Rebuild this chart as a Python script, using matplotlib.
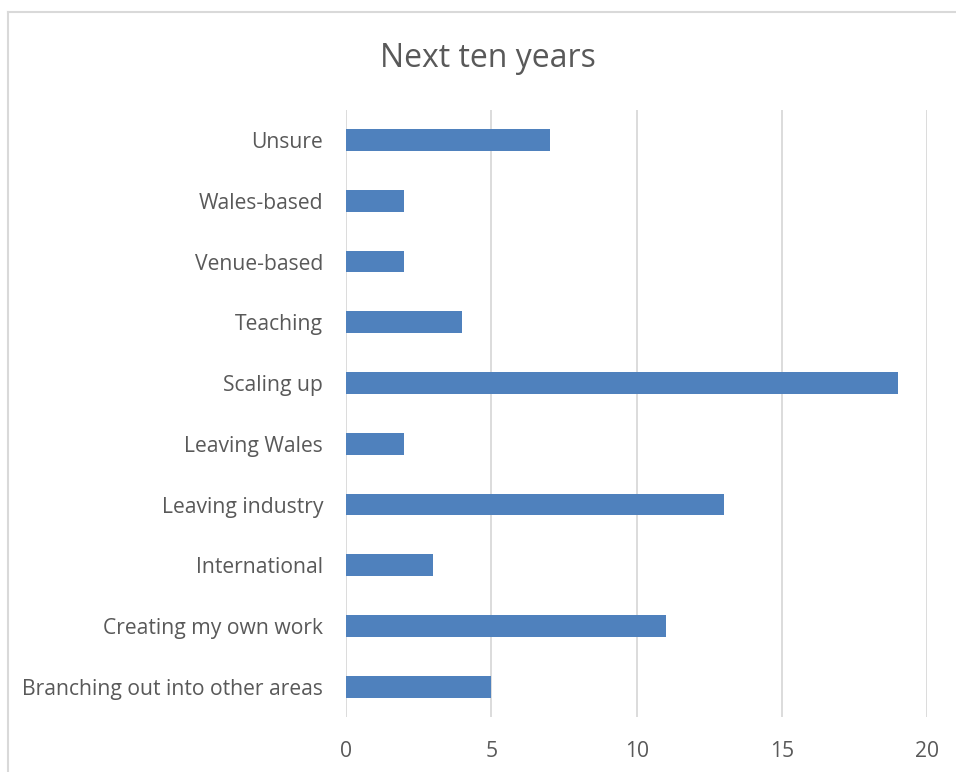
import matplotlib.pyplot as plt
from matplotlib.lines import Line2D

# Survey answers: what respondents expect over the next ten years
categories = ["Branching out into other areas", "Creating my own work", "International",
              "Leaving industry", "Leaving Wales", "Scaling up", "Teaching",
              "Venue-based", "Wales-based", "Unsure"]
counts = [5, 11, 3, 13, 2, 19, 4, 2, 2, 7]
xticks = [0, 5, 10, 15, 20]

plt.rcParams["font.family"] = ["Open Sans", "DejaVu Sans"]
text_color = "#595959"

fig = plt.figure(figsize=(9.56, 7.72), dpi=100)
ax = fig.add_axes([0.362, 0.071, 0.608, 0.787])

ax.barh(categories, counts, height=0.36, color="#4f81bd", zorder=3)
ax.set_xlim(0, 20)
ax.set_ylim(-0.5, len(categories) - 0.5)
ax.set_xticks(xticks)
ax.grid(axis="x", color="#d9d9d9", linewidth=1.3, zorder=0)
for side in ["top", "right", "bottom", "left"]:
    ax.spines[side].set_visible(False)
ax.tick_params(length=0, colors=text_color, labelsize=15.2)
ax.tick_params(axis="y", pad=16.5)
ax.tick_params(axis="x", pad=17)

fig.text(0.51, 0.924, "Next ten years", ha="center", va="center",
         fontsize=23, color=text_color)

# chart area frame (top and left edges)
fig.add_artist(Line2D([7.5 / 956, 1], [1 - 11.5 / 772] * 2, color="#d9d9d9", linewidth=1.5))
fig.add_artist(Line2D([7.5 / 956] * 2, [0, 1 - 11.5 / 772], color="#d9d9d9", linewidth=1.5))

fig.savefig("out.png", dpi=100)
